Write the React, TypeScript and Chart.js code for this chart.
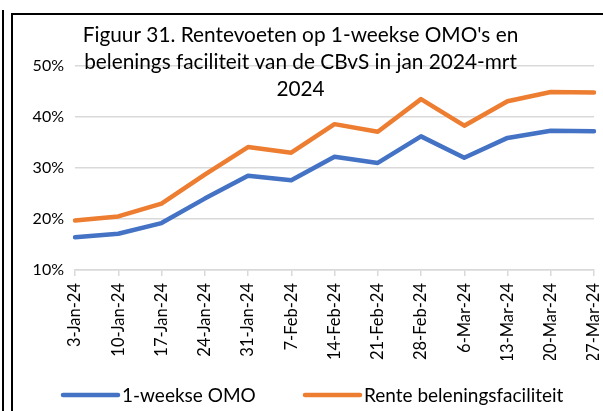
import React, { useEffect, useRef } from "react";
import { Chart, registerables } from "chart.js";

Chart.register(...registerables);

const categories = [
  "3-Jan-24", "10-Jan-24", "17-Jan-24", "24-Jan-24", "31-Jan-24", "7-Feb-24",
  "14-Feb-24", "21-Feb-24", "28-Feb-24", "6-Mar-24", "13-Mar-24", "20-Mar-24", "27-Mar-24",
];
const omoValues = [16.4, 17.1, 19.2, 24.0, 28.5, 27.6, 32.2, 31.0, 36.2, 32.0, 35.9, 37.3, 37.2];
const renteValues = [19.7, 20.5, 23.0, 28.7, 34.1, 33.0, 38.6, 37.1, 43.5, 38.3, 43.1, 44.9, 44.8];
const seriesNames = ["1-weekse OMO", "Rente beleningsfaciliteit"];
const seriesColors = ["#4472C4", "#ED7D31"];
const titleLines = [
  "Figuur 31. Rentevoeten op 1-weekse OMO's en",
  "belenings faciliteit van de CBvS in jan 2024-mrt",
  "2024",
];
const yMin = 10;
const yMax = 50;
const yStep = 10;

const FONT = "Lato, 'Open Sans', sans-serif";

const titlePlugin = {
  id: "overlayTitle",
  afterDraw(chart: any) {
    const ctx = chart.ctx;
    ctx.save();
    ctx.fillStyle = "#000";
    ctx.font = `20.8px ${FONT}`;
    ctx.textAlign = "center";
    ctx.textBaseline = "alphabetic";
    const baselines = [41.5, 68.5, 95.5];
    titleLines.forEach((t, i) => ctx.fillText(t, 300.5, baselines[i]));
    ctx.restore();
  },
};

const legendPlugin = {
  id: "customLegend",
  afterDraw(chart: any) {
    const ctx = chart.ctx;
    ctx.save();
    const y = 395;
    const starts = [63, 305];
    chart.data.datasets.forEach((ds: any, i: number) => {
      const x0 = starts[i];
      ctx.strokeStyle = ds.borderColor;
      ctx.lineWidth = 4.5;
      ctx.lineCap = "round";
      ctx.beginPath();
      ctx.moveTo(x0, y);
      ctx.lineTo(x0 + 55, y);
      ctx.stroke();
      ctx.fillStyle = "#000";
      ctx.font = `19px ${FONT}`;
      ctx.textAlign = "left";
      ctx.textBaseline = "middle";
      ctx.fillText(ds.label, x0 + 59, y + 1);
    });
    ctx.restore();
  },
};

export default function App() {
  const ref = useRef<HTMLCanvasElement>(null);

  useEffect(() => {
    if (!ref.current) return;
    const chart = new Chart(ref.current, {
      type: "line",
      data: {
        labels: categories,
        datasets: [
          {
            label: seriesNames[0],
            data: omoValues,
            borderColor: seriesColors[0],
            backgroundColor: seriesColors[0],
            borderWidth: 4.5,
            pointRadius: 0,
            tension: 0,
            borderJoinStyle: "round",
            borderCapStyle: "round",
          },
          {
            label: seriesNames[1],
            data: renteValues,
            borderColor: seriesColors[1],
            backgroundColor: seriesColors[1],
            borderWidth: 4.5,
            pointRadius: 0,
            tension: 0,
            borderJoinStyle: "round",
            borderCapStyle: "round",
          },
        ],
      },
      options: {
        responsive: false,
        animation: false,
        layout: { padding: { top: 66, right: 9, bottom: 51, left: 0 } },
        plugins: {
          legend: { display: false },
          title: { display: false },
          tooltip: { enabled: false },
        },
        scales: {
          x: {
            offset: false,
            afterFit: (s: any) => {
              s.height = 90;
              s.paddingLeft = 0;
              s.paddingRight = 0;
            },
            grid: {
              drawOnChartArea: false,
              drawTicks: true,
              tickLength: 6,
              color: "#d9d9d9",
              lineWidth: 1.5,
            },
            border: { display: true, color: "#d9d9d9", width: 1.5 },
            ticks: {
              autoSkip: false,
              minRotation: 90,
              maxRotation: 90,
              padding: 7,
              color: "#000",
              font: { family: FONT, size: 16.5 },
            },
          },
          y: {
            min: yMin,
            max: yMax,
            afterFit: (s: any) => {
              s.width = 75;
            },
            grid: { color: "#d9d9d9", lineWidth: 1.5, drawTicks: false },
            border: { display: false },
            ticks: {
              stepSize: yStep,
              padding: 11,
              color: "#000",
              font: { family: FONT, size: 16 },
              callback: (v: any) => `${v}%`,
            },
          },
        },
      },
      plugins: [titlePlugin, legendPlugin],
    });
    return () => chart.destroy();
  }, []);

  return (
    <div
      style={{
        position: "fixed",
        left: 0,
        top: 0,
        width: 603,
        height: 411,
        overflow: "hidden",
        background: "#fff",
      }}
    >
      <div
        style={{
          position: "absolute",
          left: 2,
          top: 10,
          width: 1.5,
          height: 420,
          background: "#000",
        }}
      />
      <div
        style={{
          position: "absolute",
          left: 11,
          top: 13,
          width: 700,
          height: 500,
          border: "2px solid #000",
          boxSizing: "border-box",
        }}
      />
      <canvas
        ref={ref}
        width={603}
        height={411}
        style={{ position: "absolute", left: 0, top: 0 }}
      />
    </div>
  );
}
